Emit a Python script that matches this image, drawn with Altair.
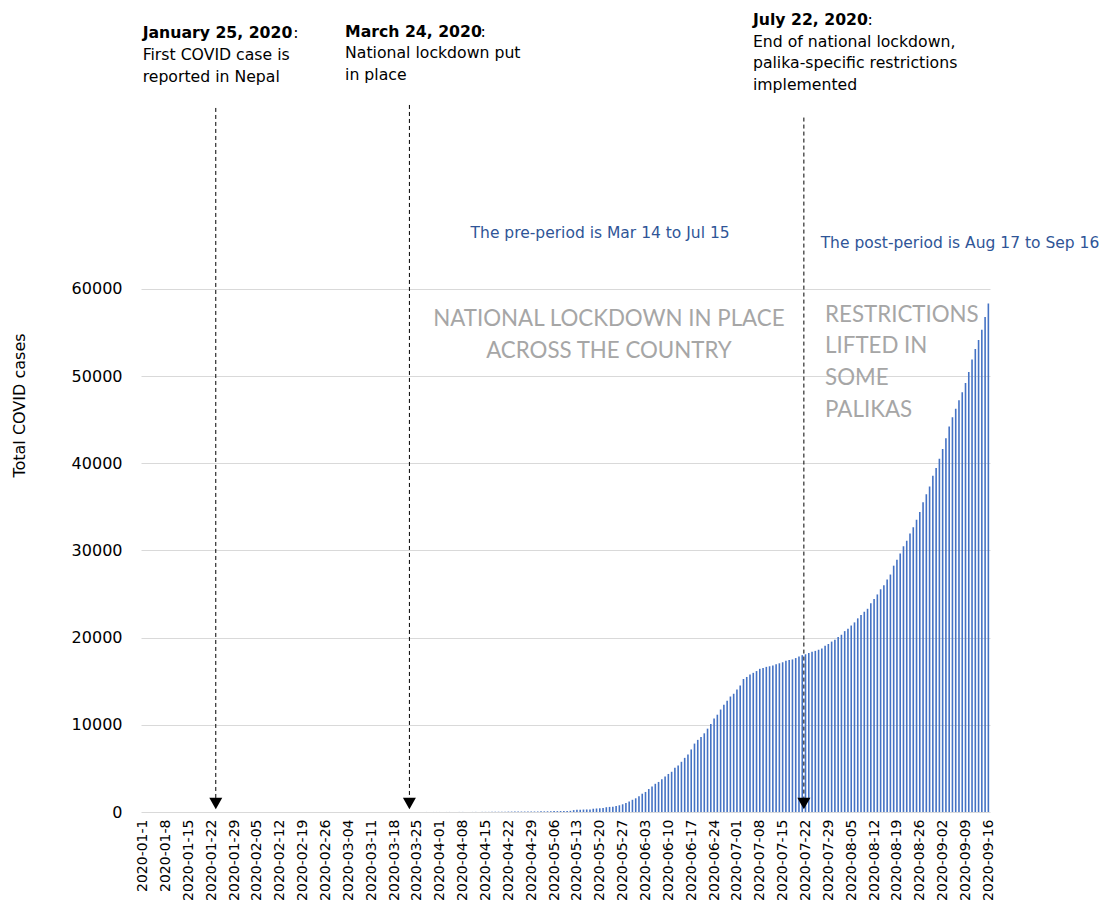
import json
import altair as alt
import pandas as pd

# ---------------- data (cumulative COVID cases, Nepal, daily) ----------------
cases_jan = [0] * 24 + [1] * 7
cases_feb = [1] * 29
cases_mar = [1] * 22 + [2, 2, 2, 2, 3, 5, 5, 5, 5]
cases_apr = [5, 6, 6, 9, 9, 9, 9, 9, 9, 9, 9, 12, 14, 16, 16, 16, 30, 31, 31, 31,
             42, 45, 48, 49, 49, 51, 52, 54, 57, 57]
cases_may = [59, 75, 75, 82, 99, 101, 102, 109, 110, 110, 134, 217, 249, 267, 281,
             291, 295, 375, 402, 427, 457, 548, 584, 603, 682, 772, 886, 1042, 1212,
             1401, 1572]
cases_jun = [1811, 2099, 2300, 2634, 2912, 3235, 3448, 3762, 4085, 4364, 4614, 5062,
             5335, 5760, 6211, 6591, 7177, 7848, 8274, 8605, 9026, 9561, 10099, 10728,
             11162, 11755, 12309, 12772, 13248, 13564]
cases_jul = [14046, 14519, 15259, 15491, 15784, 15964, 16168, 16423, 16531, 16649,
             16719, 16801, 16945, 17060, 17177, 17344, 17444, 17502, 17658, 17844,
             17994, 18094, 18241, 18374, 18482, 18613, 18752, 19063, 19273, 19547, 19771]
cases_aug = [20086, 20332, 20750, 21009, 21390, 21750, 22214, 22592, 22972, 23310,
             23947, 24432, 24956, 25550, 26019, 26660, 27240, 28257, 28938, 29645,
             30483, 31116, 31934, 32677, 33533, 34417, 35529, 36456, 37340, 38560, 39460]
cases_sep = [40529, 41649, 42877, 44235, 45276, 46256, 47236, 48137, 49218, 50464,
             51918, 53120, 54158, 55328, 56788, 58327]

cases = (cases_jan + cases_feb + cases_mar + cases_apr + cases_may + cases_jun
         + cases_jul + cases_aug + cases_sep)
day_index = list(range(len(cases)))

tick_labels = ["2020-01-1", "2020-01-8", "2020-01-15", "2020-01-22", "2020-01-29",
               "2020-02-05", "2020-02-12", "2020-02-19", "2020-02-26", "2020-03-04",
               "2020-03-11", "2020-03-18", "2020-03-25", "2020-04-01", "2020-04-08",
               "2020-04-15", "2020-04-22", "2020-04-29", "2020-05-06", "2020-05-13",
               "2020-05-20", "2020-05-27", "2020-06-03", "2020-06-10", "2020-06-17",
               "2020-06-24", "2020-07-01", "2020-07-08", "2020-07-15", "2020-07-22",
               "2020-07-29", "2020-08-05", "2020-08-12", "2020-08-19", "2020-08-26",
               "2020-09-02", "2020-09-09", "2020-09-16"]
tick_values = [i * 7 for i in range(len(tick_labels))]
y_ticks = [0, 10000, 20000, 30000, 40000, 50000, 60000]

# events (arrows): position on day axis, top of dashed line, bottom of line, arrow head
event_x = [22.4, 81.7, 202.5]
event_top = [80763, 81107, 79661]
event_bottom = [1606, 1606, 1606]
event_head = [975, 975, 975]

# annotation headings (bold) and their colons
head_text = ["January 25, 2020", "March 24, 2020", "July 22, 2020"]
head_x = [0, 62.0, 186.9]
head_y = [88795, 88910, 90285]
colon_x = [46.1, 103.5, 222.0]

body_text = ["First COVID case is", "reported in Nepal",
             "National lockdown put", "in place",
             "End of national lockdown,", "palika-specific restrictions", "implemented"]
body_x = [0, 0, 62.0, 62.0, 186.9, 186.9, 186.9]
body_y = [86271, 83747, 86444, 83977, 87761, 85352, 82828]

period_text = ["The pre-period is Mar 14 to Jul 15", "The post-period is Aug 17 to Sep 16"]
period_x = [140.1, 250.3]
period_y = [65849, 64702]

center_text = ["NATIONAL LOCKDOWN IN PLACE", "ACROSS THE COUNTRY"]
center_x = [142.8, 142.8]
center_y = [55754, 52083]

left_text = ["RESTRICTIONS", "LIFTED IN", "SOME", "PALIKAS"]
left_x = [209.0, 209.0, 209.0, 209.0]
left_y = [56213, 52656, 48985, 45314]

# ---------------- chart ----------------
FONT = "DejaVu Sans"
x_scale = alt.Scale(domain=[-0.5, 259.5], nice=False, zero=False, padding=0)
y_scale = alt.Scale(domain=[0, 92000], nice=False, padding=0)

label_expr = json.dumps(tick_labels) + "[round(datum.value / 7)]"

bars_df = pd.DataFrame({"x": day_index, "y": cases})
bars = alt.Chart(bars_df).mark_bar(size=1.6, color="#4472C4").encode(
    x=alt.X("x:Q", scale=x_scale, axis=alt.Axis(
        values=tick_values, tickCount=60, labelExpr=label_expr, labelAngle=270,
        labelFont=FONT, labelFontSize=14, labelColor="black",
        domain=False, ticks=False, grid=False, labelPadding=7,
        labelOverlap=False, labelFlush=False, labelBound=False, title=None)),
    y=alt.Y("y:Q", scale=y_scale, axis=alt.Axis(
        values=y_ticks, format="d", grid=True, gridColor="#D9D9D9", gridWidth=1,
        domain=False, ticks=False, labelFont=FONT, labelFontSize=16,
        labelColor="black", labelPadding=19, title="Total COVID cases",
        titleFont=FONT, titleFontSize=16, titleFontWeight="normal",
        titleColor="black", titleX=-122, titleY=395, titleAlign="center",
        titleBaseline="middle", titleAngle=270)),
)

ev_df = pd.DataFrame({"x": event_x, "y": event_top, "y2": event_bottom, "h": event_head})
rules = alt.Chart(ev_df).mark_rule(color="black", strokeDash=[4, 3], strokeWidth=1).encode(
    x=alt.X("x:Q", scale=x_scale), y=alt.Y("y:Q", scale=y_scale), y2="y2:Q")
heads = alt.Chart(ev_df).mark_point(shape="triangle-down", filled=True, color="black",
                                    opacity=1, size=169).encode(
    x=alt.X("x:Q", scale=x_scale), y=alt.Y("h:Q", scale=y_scale))


def text_layer(xs, ys, texts, **mark):
    df = pd.DataFrame({"x": xs, "y": ys, "t": texts})
    return alt.Chart(df).mark_text(**mark).encode(
        x=alt.X("x:Q", scale=x_scale), y=alt.Y("y:Q", scale=y_scale), text="t:N")


heads_txt = text_layer(head_x, head_y, head_text, align="left", baseline="alphabetic",
                       font=FONT, fontSize=15.7, fontWeight="bold", color="black")
colons = text_layer(colon_x, head_y, [":", ":", ":"], align="left", baseline="alphabetic",
                    font=FONT, fontSize=15.7, color="black")
body = text_layer(body_x, body_y, body_text, align="left", baseline="alphabetic",
                  font=FONT, fontSize=15.7, color="black")
periods = text_layer(period_x, period_y, period_text, align="center", baseline="alphabetic",
                     font=FONT, fontSize=15.5, color="#2F5597")
center_lbl = text_layer(center_x, center_y, center_text, align="center", baseline="alphabetic",
                        font="Lato", fontSize=22.3, color="#A6A6A6")
left_lbl = text_layer(left_x, left_y, left_text, align="left", baseline="alphabetic",
                      font="Lato", fontSize=22.3, color="#A6A6A6")

chart = alt.layer(
    bars, rules, heads, heads_txt, colons, body, periods, center_lbl, left_lbl
).properties(
    width=849, height=802,
    padding={"left": 133, "top": 2, "right": 110, "bottom": 89},
    autosize=alt.AutoSizeParams(type="none"),
    background="white",
).configure_view(stroke=None)

chart.save("out.html", embed_options={"renderer": "svg", "actions": False})
